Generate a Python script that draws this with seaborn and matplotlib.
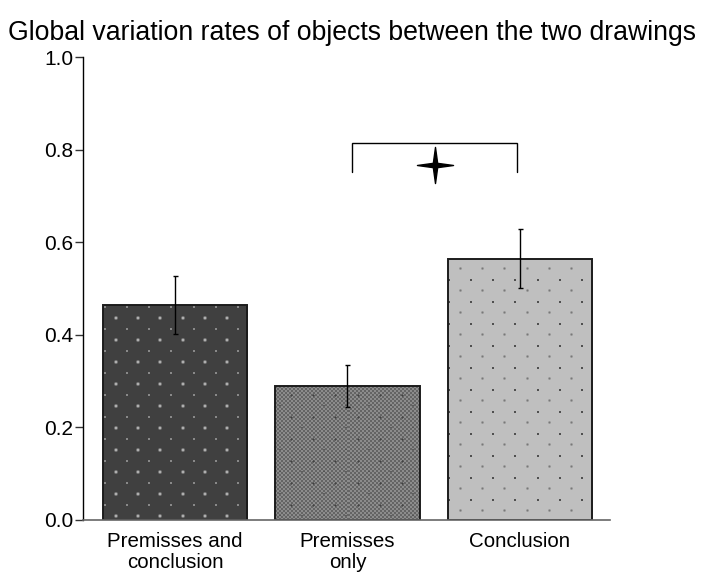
import numpy as np
import pandas as pd
import matplotlib
matplotlib.use("Agg")
import matplotlib.pyplot as plt
from matplotlib.path import Path
from matplotlib.patches import Rectangle
import seaborn as sns

# Data
conditions = ["Premisses and\nconclusion", "Premisses\nonly", "Conclusion"]
rates = [0.464, 0.289, 0.564]
errors = [0.062, 0.046, 0.064]

face_colors = ["#404040", "#7e7e7e", "#bfbfbf"]

sns.set_theme(style="white")
plt.rcParams["font.family"] = ["Liberation Sans", "DejaVu Sans"]

fig = plt.figure(figsize=(7.04, 5.77), dpi=100)
ax = fig.add_axes([0.118, 0.099, 0.748, 0.802])

df = pd.DataFrame({"condition": conditions, "rate": rates})
sns.barplot(data=df, x="condition", y="rate", hue="condition",
            palette=face_colors, errorbar=None, width=0.835,
            legend=False, ax=ax, saturation=1)

ax.set_xlim(-0.533, 2.52)
ax.set_ylim(0, 1.0)

PERIOD = 22
SOFT = np.array([[0.15, 0.45, 0.45, 0.15],
                 [0.45, 1.00, 1.00, 0.45],
                 [0.45, 1.00, 1.00, 0.45],
                 [0.15, 0.45, 0.45, 0.15]])
SOFT_SMALL = np.array([[0.25, 0.55, 0.25],
                       [0.55, 1.00, 0.55],
                       [0.25, 0.55, 0.25]])
SQUARE = np.array([[0.85, 0.85],
                   [0.85, 0.85]])
CROSS = np.array([[0.0, 0.6, 0.0],
                  [0.6, 1.0, 0.6],
                  [0.0, 0.6, 0.0]])


def grey(v):
    return np.array([v, v, v]) / 255.0


def stamp(img, kernel, color, ox, oy):
    h, w, _ = img.shape
    for cy in range(oy - PERIOD, h + PERIOD, PERIOD):
        for cx in range(ox - PERIOD, w + PERIOD, PERIOD):
            for (dy, dx), a in np.ndenumerate(kernel):
                yy, xx = cy + dy, cx + dx
                if 0 <= yy < h and 0 <= xx < w and a > 0:
                    img[yy, xx] = img[yy, xx] * (1 - a) + color * a


def texture(kind, w, h):
    if kind == 0:
        img = np.ones((h, w, 3)) * grey(64)
        stamp(img, SQUARE, grey(150), 1, 1)
        stamp(img, SOFT, grey(175), 11, 11)
    elif kind == 1:
        yy, xx = np.mgrid[0:h, 0:w]
        chk = ((yy // 2 + xx // 2) % 2).astype(float)
        img = np.where(chk[..., None] > 0, grey(140), grey(100)).astype(float)
        stamp(img, CROSS, grey(66), 15, 8)
        stamp(img, np.array([[0.7, 0.7]]), grey(76), 4, 19)
    else:
        img = np.ones((h, w, 3)) * grey(191)
        stamp(img, SOFT_SMALL, grey(120), 11, 8)
        stamp(img, SQUARE, grey(60), 0, 20)
    return img


# Fill each bar with its dotted texture and a dark outline
for i, patch in enumerate(list(ax.patches)):
    x0, y0 = patch.get_x(), patch.get_y()
    x1, y1 = x0 + patch.get_width(), y0 + patch.get_height()
    p0 = ax.transData.transform((x0, y0))
    p1 = ax.transData.transform((x1, y1))
    wpx = max(int(round(p1[0] - p0[0])), 1)
    hpx = max(int(round(p1[1] - p0[1])), 1)
    img = texture(i, wpx, hpx)
    ax.imshow(img, extent=[x0, x1, y0, y1], aspect="auto",
              interpolation="nearest", zorder=patch.get_zorder() + 0.05)
    ax.add_patch(Rectangle((x0, y0), x1 - x0, y1 - y0, fill=False,
                           edgecolor="#1c1c1c", linewidth=1.4,
                           zorder=patch.get_zorder() + 0.1))

xs = np.arange(len(conditions))
ax.errorbar(xs, rates, yerr=errors, fmt="none", ecolor="black",
            elinewidth=1.0, capsize=1.8, capthick=1.0, zorder=5)

# Significance bracket between the 2nd and 3rd bars
bx0, bx1, btop, bbot = 1.026, 1.983, 0.814, 0.752
ax.plot([bx0, bx0, bx1, bx1], [bbot, btop, btop, bbot], color="black",
        linewidth=1.0, solid_joinstyle="miter", clip_on=False)

# Four-pointed star marker
r_out, r_in = 1.0, 0.17
verts = []
for k in range(8):
    ang = np.pi / 2 + k * np.pi / 4
    r = r_out if k % 2 == 0 else r_in
    verts.append((r * np.cos(ang), r * np.sin(ang)))
verts.append(verts[0])
codes = [Path.MOVETO] + [Path.LINETO] * 7 + [Path.CLOSEPOLY]
star = Path(verts, codes)
ax.plot([(bx0 + bx1) / 2], [0.767], marker=star, markersize=26,
        color="black", linestyle="none", zorder=6)

ax.set_xlim(-0.533, 2.52)
ax.set_ylim(0, 1.0)
ax.set_yticks([0.0, 0.2, 0.4, 0.6, 0.8, 1.0])
ax.set_yticklabels(["0.0", "0.2", "0.4", "0.6", "0.8", "1.0"])
ax.set_xlabel("")
ax.set_ylabel("")

for side in ["top", "right"]:
    ax.spines[side].set_visible(False)
ax.spines["left"].set_color("black")
ax.spines["left"].set_linewidth(1.0)
ax.spines["bottom"].set_color("#666666")
ax.spines["bottom"].set_linewidth(1.2)

ax.tick_params(axis="y", which="both", left=True, length=6, width=1.0,
               color="#333333", labelsize=15, labelcolor="black", pad=1)
ax.tick_params(axis="x", bottom=False, labelsize=14.8, labelcolor="black", pad=3)
for lbl in ax.get_xticklabels():
    lbl.set_linespacing(1.12)

fig.text(0.5, 0.943, "Global variation rates of objects between the two drawings",
         ha="center", va="center", fontsize=19.2, color="black")

fig.savefig("out.png", dpi=100)
